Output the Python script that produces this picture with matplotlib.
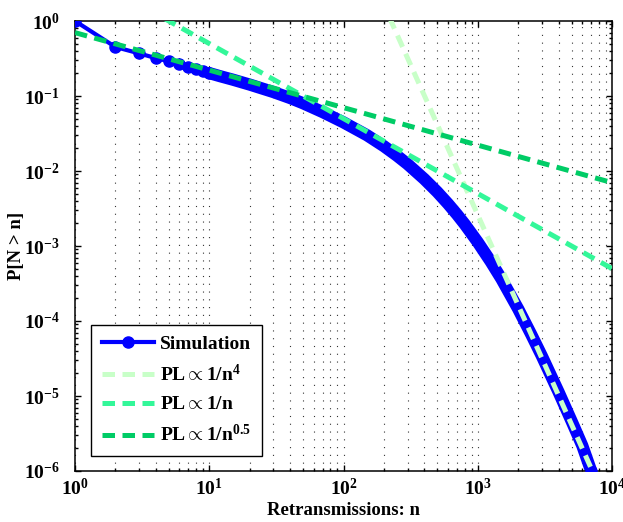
import matplotlib
matplotlib.use("Agg")
import matplotlib.pyplot as plt
from matplotlib.ticker import LogLocator, NullFormatter
import numpy as np

plt.rcParams.update({
    "font.family": ["Liberation Serif", "DejaVu Serif"],
    "font.weight": "bold",
    "mathtext.fontset": "custom",
    "mathtext.rm": "Liberation Serif:bold",
    "mathtext.bf": "Liberation Serif:bold",
    "mathtext.it": "Liberation Serif:bold:italic",
    "mathtext.default": "bf",
})

# Empirical tail P[N > n] of the number of retransmissions
n_sim = [1, 2, 3, 4, 5, 6, 7, 8, 9, 10, 12, 15, 20, 30, 40, 50, 70, 100,
         150, 200, 250, 300, 400, 500, 600, 700, 800, 1000, 1250, 1500,
         2000, 2500, 3000, 4000, 5000, 6000, 7000]
p_sim = [1.0, 0.45, 0.37, 0.32, 0.29, 0.265, 0.245, 0.23, 0.215, 0.202,
         0.184, 0.165, 0.142, 0.113, 0.094, 0.080, 0.061, 0.0445,
         0.0299, 0.0214, 0.0160, 0.01236, 0.0078, 0.00524, 0.00366, 0.00264,
         0.00195, 0.001125, 6.18e-4, 3.65e-4,
         1.45e-4, 6.64e-5, 3.42e-5, 1.13e-5, 4.62e-6, 2.19e-6, 1.0e-6]

# Power-law reference lines  c / n^a
pl_labels = [r"$\mathrm{PL}\propto 1/\mathrm{n}^{4}$",
             r"$\mathrm{PL}\propto 1/\mathrm{n}$",
             r"$\mathrm{PL}\propto 1/\mathrm{n}^{0.5}$"]
pl_exponents = [4.0, 1.0, 0.5]
pl_coeffs = [2.6e9, 5.0, 0.7]
pl_colors = ["#C8FFC8", "#33F799", "#00CC66"]
n_ref = np.array([1.0, 1e4])

fig = plt.figure(figsize=(6.23, 5.22), dpi=100)
ax = fig.add_axes([75 / 623, 1 - 471 / 522, 537 / 623, 450 / 522])

blue = "#0000FF"
ns = np.array(n_sim)
ps = np.array(p_sim)
# closely spaced samples merge into one thick band
band = ns >= 10
ax.plot(ns[band], ps[band], color=blue, lw=8.8, solid_capstyle="round",
        solid_joinstyle="round", zorder=2)
marked = [i for i, n in enumerate(n_sim) if n <= 10] + [len(n_sim) - 1]
ax.plot(ns, ps, "-o", color=blue, lw=3, ms=8, mfc=blue, mec=blue,
        markevery=marked, label="Simulation", zorder=3)

for lab, a, c, col in zip(pl_labels, pl_exponents, pl_coeffs, pl_colors):
    ax.plot(n_ref, c * n_ref ** (-a), color=col, lw=3.6,
            linestyle=(0, (2.5, 1.5)), label=lab, zorder=4)

ax.set_xscale("log")
ax.set_yscale("log")
ax.set_xlim(1, 1e4)
ax.set_ylim(1e-6, 1)

ax.xaxis.set_major_locator(LogLocator(base=10, numticks=10))
ax.xaxis.set_minor_locator(LogLocator(base=10, subs=np.arange(2, 10), numticks=20))
ax.yaxis.set_major_locator(LogLocator(base=10, numticks=10))
ax.yaxis.set_minor_locator(LogLocator(base=10, subs=np.arange(2, 10), numticks=20))
ax.xaxis.set_minor_formatter(NullFormatter())
ax.yaxis.set_minor_formatter(NullFormatter())

ax.tick_params(which="both", direction="in", top=True, right=True, width=1)
ax.tick_params(which="major", length=4.5, labelsize=14)
ax.tick_params(axis="y", which="major", pad=11)
ax.tick_params(axis="x", which="major", pad=5)
ax.tick_params(which="minor", length=2.5)
for s in ax.spines.values():
    s.set_linewidth(1.1)

ax.grid(True, which="both", axis="x", color="0.2", lw=0.8,
        linestyle=(0, (1, 6)))

ax.set_xlabel("Retransmissions: n", fontsize=13.5, fontweight="bold")
ax.set_ylabel("P[N > n]", fontsize=13.5, fontweight="bold")
ax.xaxis.set_label_coords(0.5, -(502 - 471) / 450)
ax.yaxis.set_label_coords(-(75 - 25) / 537, 0.5)

leg = ax.legend(loc="lower left", bbox_to_anchor=(16 / 537, 15 / 450),
                borderaxespad=0, fontsize=14, handlelength=2.7,
                handletextpad=0.3, labelspacing=0.55, borderpad=0.55,
                fancybox=False, framealpha=1)
leg.get_frame().set_edgecolor("black")
leg.get_frame().set_linewidth(1.0)

fig.savefig("out.png", dpi=100)
